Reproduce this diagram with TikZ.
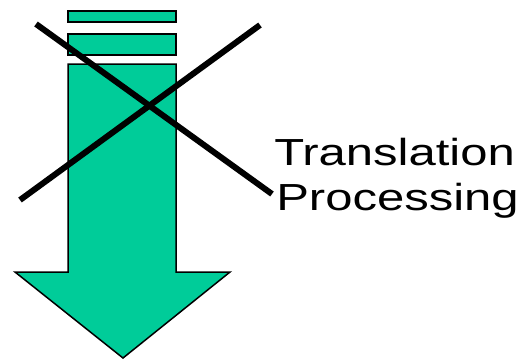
\documentclass[tikz,border=0pt]{standalone}
\usepackage{fontspec}
\setmainfont{Liberation Sans}
\definecolor{arrowgreen}{RGB}{0,204,153}
\begin{document}
\begin{tikzpicture}[x=1pt,y=-1pt,
  greenpart/.style={fill=arrowgreen,draw=black,line width=1.5pt,line join=miter},
  crossline/.style={draw=black,line width=6pt},
  label/.style={font=\fontsize{37.7}{45}\selectfont,inner sep=0pt,anchor=base west,xscale=1.3}]
\useasboundingbox (0,0) rectangle (522,360);
% bars
\path[greenpart] (68,11) rectangle (176,22);
\path[greenpart] (68,34) rectangle (176,55);
% arrow
\path[greenpart] (68,64) -- (176,64) -- (176,272) -- (230,272) -- (123,358) -- (15,272) -- (68,272) -- cycle;
% cross
\coordinate (c1a) at (36,24);
\coordinate (c1b) at (272,194);
\coordinate (c2a) at (260,25);
\coordinate (c2b) at (20,200);
\draw[crossline] (c1a) -- (c1b);
\draw[crossline] (c2a) -- (c2b);
% text
\node[label] (t1) at (274,165) {Translation};
\node[label] (t2) at (276,210) {Processing};
\end{tikzpicture}
\end{document}
